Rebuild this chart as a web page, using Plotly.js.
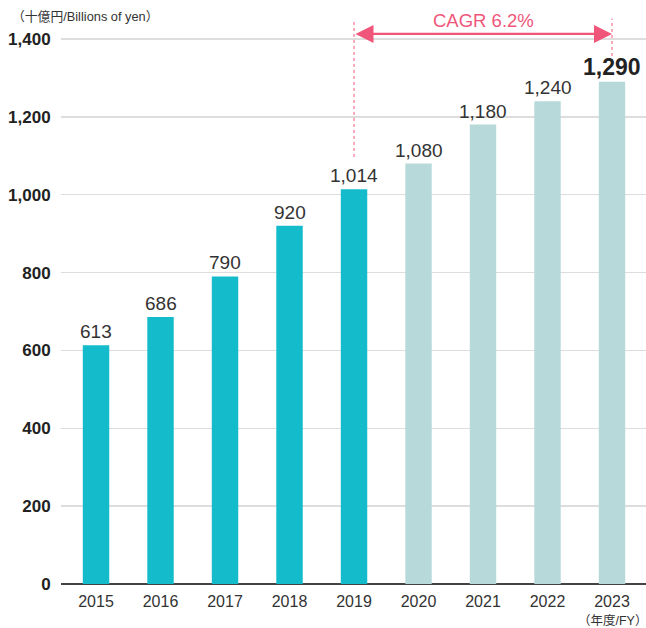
<!DOCTYPE html>
<html>
<head>
<meta charset="utf-8">
<script src="https://cdn.plot.ly/plotly-3.0.1.min.js"></script>
<style>html,body{margin:0;padding:0;background:#fff;}#chart{width:646px;height:628px;}</style>
</head>
<body>
<div id="chart"></div>
<script>
const years = ['2015','2016','2017','2018','2019','2020','2021','2022','2023'];
const values = [613, 686, 790, 920, 1014, 1080, 1180, 1240, 1290];
const isActual = [true, true, true, true, true, false, false, false, false];
const yTicks = [0, 200, 400, 600, 800, 1000, 1200, 1400];
const cagrText = 'CAGR 6.2%';
const cagrFrom = '2019';
const cagrTo = '2023';
const unitLabel = '（十億円/Billions of yen）';
const fyLabel = '（年度/FY）';

const FONT = 'Liberation Sans, Arial, Helvetica, "Noto Sans CJK JP", sans-serif';
const PINK = '#F0567A';
const fmt = v => v.toLocaleString('en-US');

const colors = isActual.map(a => a ? '#14BBCB' : '#B8D9DA');

const trace = {
  type: 'bar',
  x: years,
  y: values,
  marker: {color: colors},
  hoverinfo: 'skip'
};

const iFrom = years.indexOf(cagrFrom);
const iTo = years.indexOf(cagrTo);
const last = values.length - 1;

const annotations = values.map((v, i) => ({
  x: i, y: v, xref: 'x', yref: 'y',
  text: i === last ? '<b>' + fmt(v) + '</b>' : fmt(v),
  showarrow: false, yanchor: 'bottom', yshift: i === last ? 0 : 1,
  font: {family: FONT, size: i === last ? 23 : 19, color: i === last ? '#222' : '#333'}
}));

annotations.push({
  x: iTo, y: 1413, ax: iFrom, ay: 1413, xref: 'x', yref: 'y', axref: 'x', ayref: 'y',
  text: '', showarrow: true, arrowside: 'end+start', arrowhead: 2, arrowsize: 1.5,
  arrowwidth: 2.4, arrowcolor: PINK, standoff: 0, startstandoff: 0
});
annotations.push({
  x: (iFrom + iTo) / 2, y: 1447, xref: 'x', yref: 'y',
  text: cagrText, showarrow: false,
  font: {family: FONT, size: 18.5, color: PINK}
});
annotations.push({
  x: -0.088, y: 1, xref: 'paper', yref: 'paper', yanchor: 'middle', xanchor: 'left',
  text: unitLabel, showarrow: false, font: {family: FONT, size: 12.8, color: '#333'}
});
annotations.push({
  x: iTo, y: 0, xref: 'x', yref: 'y', yanchor: 'middle', xanchor: 'center', yshift: -36,
  text: fyLabel, showarrow: false, font: {family: FONT, size: 12.5, color: '#333'}
});

const shapes = [
  {type: 'line', xref: 'x', yref: 'y', x0: iFrom, x1: iFrom, y0: 1097, y1: 1452,
   line: {color: PINK, width: 1, dash: 'dot'}, layer: 'above'},
  {type: 'line', xref: 'x', yref: 'y', x0: iTo, x1: iTo, y0: 1341, y1: 1452,
   line: {color: PINK, width: 1, dash: 'dot'}, layer: 'above'}
];

const layout = {
  width: 646, height: 628,
  margin: {l: 61, r: 0, t: 16, b: 44},
  paper_bgcolor: '#fff', plot_bgcolor: '#fff',
  showlegend: false,
  bargap: 0.59,
  font: {family: FONT, color: '#333'},
  xaxis: {
    type: 'category', range: [-0.543, 8.527],
    showgrid: false, zeroline: false, showline: false,
    ticks: 'outside', ticklen: 3, tickcolor: 'rgba(0,0,0,0)',
    tickfont: {family: FONT, size: 16, color: '#333'},
    fixedrange: true
  },
  yaxis: {
    range: [0, 1459], tickvals: yTicks, ticktext: yTicks.map(fmt),
    showgrid: true, gridcolor: '#DDDDDD', gridwidth: 1.5,
    zeroline: true, zerolinecolor: '#444', zerolinewidth: 2,
    ticks: 'outside', ticklen: 6, tickcolor: 'rgba(0,0,0,0)',
    tickfont: {family: FONT, size: 17, color: '#222', weight: 'bold'},
    fixedrange: true
  },
  annotations: annotations,
  shapes: shapes
};

Plotly.newPlot('chart', [trace], layout, {displayModeBar: false, staticPlot: true});
</script>
</body>
</html>
